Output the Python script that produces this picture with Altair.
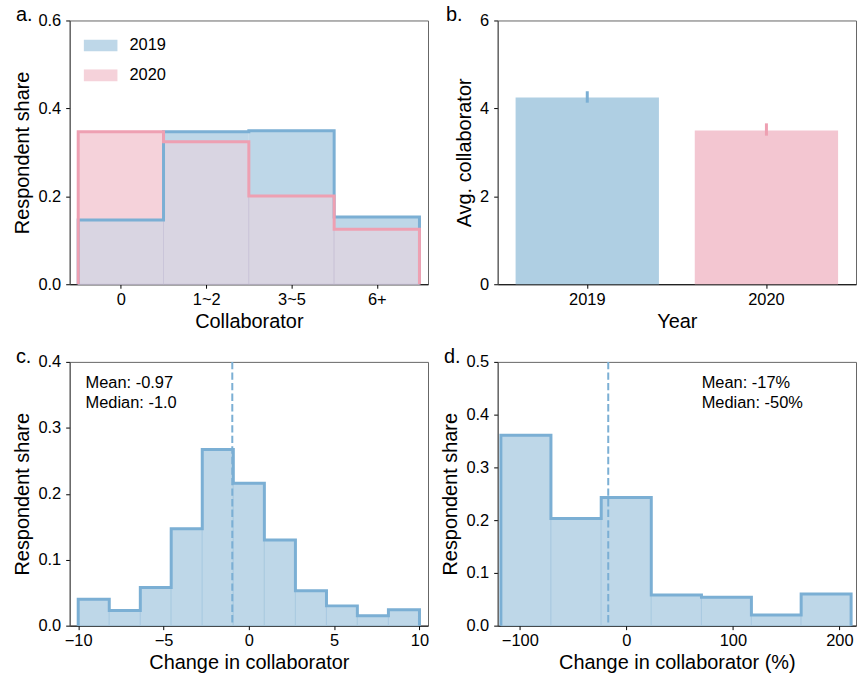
import altair as alt
import pandas as pd

FONT = "Liberation Sans"

# a. respondent share by number of collaborators
categories = ["0", "1~2", "3~5", "6+"]
years = ["2019", "2020"]
share_2019 = [0.146, 0.347, 0.349, 0.153]
share_2020 = [0.347, 0.324, 0.201, 0.125]

# b. average number of collaborators per year, with error range
avg_collaborators = [4.25, 3.50]
err_low = [4.13, 3.38]
err_high = [4.39, 3.66]

# c. change in number of collaborators
change_edges = [-10.0, -8.18, -6.36, -4.55, -2.73, -0.91, 0.91, 2.73, 4.55, 6.36, 8.18, 10.0]
change_share = [0.040, 0.023, 0.058, 0.147, 0.267, 0.216, 0.130, 0.053, 0.030, 0.015, 0.024]
change_mean = -0.97
change_median = -1.0

# d. relative change in number of collaborators (%)
pct_edges = [-117.8, -70.8, -23.6, 23.4, 70.5, 117.4, 164.1, 211.0]
pct_share = [0.361, 0.203, 0.243, 0.058, 0.054, 0.020, 0.060]
pct_mean = -17
pct_median = -50

BLUE_LINE = "#7bafd4"
PINK_LINE = "#eea0b2"
BLUE_FILL = "#bed7e8"
PINK_FILL = "#f5d2da"
MIX_FILL = "#d9d5e2"
BAR_COLORS = ["#afcfe3", "#f3c6d1"]
W, H = 360, 265


def qscale(domain):
    return alt.Scale(domain=domain, nice=False, zero=False)


def xenc(field, domain, values, title, **axis_kw):
    return alt.X(field, type="quantitative", scale=qscale(domain),
                 axis=alt.Axis(values=values, title=title, **axis_kw))


def yenc(field, domain, values, title, fmt):
    return alt.Y(field, type="quantitative", scale=qscale(domain),
                 axis=alt.Axis(values=values, title=title, format=fmt))


def step_points(edges, shares):
    """Outline of a step histogram: up from zero, across each bin, back to zero."""
    xs = [edges[0]] + list(edges[:-1]) + [edges[-1], edges[-1]]
    ys = [0.0] + list(shares) + [shares[-1], 0.0]
    return pd.DataFrame({"x": xs, "y": ys, "idx": list(range(len(xs)))})


def panel_title(label, dx):
    return alt.TitleParams(label, anchor="start", frame="group", dx=dx, dy=13, offset=0,
                           fontSize=20, font=FONT, fontWeight="normal", color="black")


# ---------------- panel a ----------------
cat_edges = [i - 0.5 for i in range(len(categories) + 1)]
bins_a = pd.DataFrame({
    "year": [years[0]] * 4 + [years[1]] * 4,
    "x0": cat_edges[:-1] * 2,
    "x1": cat_edges[1:] * 2,
    "share": share_2019 + share_2020,
})
wide_a = pd.DataFrame({"x0": cat_edges[:-1], "x1": cat_edges[1:],
                       "s19": share_2019, "s20": share_2020})
label_expr = "[" + ",".join(f"'{c}'" for c in categories) + "][datum.value]"
xa = lambda f: xenc(f, [-0.6, 3.6], [0, 1, 2, 3], "Collaborator", labelExpr=label_expr)
ya = lambda f: yenc(f, [0, 0.6], [0, 0.2, 0.4, 0.6], "Respondent share", ".1f")

legend_a = alt.Legend(title=None, orient="none", legendX=14, legendY=19,
                      symbolType="M-1,-0.353H1V0.353H-1Z", symbolSize=1156,
                      symbolStrokeWidth=0, symbolOpacity=1, clipHeight=12,
                      rowPadding=13, labelOffset=12, labelFontSize=16.5,
                      labelFont=FONT, labelColor="black", padding=0)

rect_a = alt.Chart(bins_a).mark_rect().encode(
    x=xa("x0"), x2="x1", y=ya("share"), y2=alt.datum(0),
    color=alt.Color("year:N", scale=alt.Scale(domain=years, range=[BLUE_FILL, PINK_FILL]),
                    legend=legend_a),
)
mix_a = alt.Chart(wide_a).transform_calculate(
    low="min(datum.s19, datum.s20)"
).mark_rect(fill=MIX_FILL, stroke="#c8c2d6", strokeWidth=0.8).encode(
    x=xa("x0"), x2="x1", y=ya("low:Q"), y2=alt.datum(0),
)
line_19 = alt.Chart(step_points(cat_edges, share_2019)).mark_line(
    interpolate="step-after", strokeWidth=3, color=BLUE_LINE, strokeJoin="miter"
).encode(x=xa("x"), y=ya("y"), order="idx:Q")
line_20 = alt.Chart(step_points(cat_edges, share_2020)).mark_line(
    interpolate="step-after", strokeWidth=3, color=PINK_LINE, strokeJoin="miter"
).encode(x=xa("x"), y=ya("y"), order="idx:Q")

panel_a = alt.layer(rect_a, mix_a, line_19, line_20).properties(
    width=W, height=H, title=panel_title("a.", -54))

# ---------------- panel b ----------------
bar_df = pd.DataFrame({"year": years, "avg": avg_collaborators,
                       "lo": err_low, "hi": err_high})
xb = alt.X("year:N", scale=alt.Scale(domain=years, paddingInner=0.2, paddingOuter=0.1),
           axis=alt.Axis(title="Year", labelAngle=0))
yb = lambda f: yenc(f, [0, 6], [0, 2, 4, 6], "Avg. collaborator", "d")

bars_b = alt.Chart(bar_df).mark_bar().encode(
    x=xb, y=yb("avg"),
    color=alt.Color("year:N", scale=alt.Scale(domain=years, range=BAR_COLORS), legend=None),
)
err_b = alt.Chart(bar_df).mark_rule(strokeWidth=3).encode(
    x=xb, y=yb("lo"), y2="hi",
    stroke=alt.Stroke("year:N", scale=alt.Scale(domain=years, range=[BLUE_LINE, PINK_LINE]),
                      legend=None),
)
panel_b = alt.layer(bars_b, err_b).properties(
    width=W, height=H, title=panel_title("b.", -52))


# ---------------- panels c and d ----------------
def hist_panel(edges, shares, xdomain, xticks, xtitle, ydomain, yticks,
               mean, note, note_x, note_y, label):
    xf = lambda f: xenc(f, xdomain, xticks, xtitle)
    yf = lambda f: yenc(f, ydomain, yticks, "Respondent share", ".1f")
    bins = pd.DataFrame({"x0": edges[:-1], "x1": edges[1:], "share": shares})
    rects = alt.Chart(bins).mark_rect(fill=BLUE_FILL, stroke="#a6c7df", strokeWidth=0.8).encode(
        x=xf("x0"), x2="x1", y=yf("share"), y2=alt.datum(0))
    outline = alt.Chart(step_points(edges, shares)).mark_line(
        interpolate="step-after", strokeWidth=3, color=BLUE_LINE, strokeJoin="miter"
    ).encode(x=xf("x"), y=yf("y"), order="idx:Q")
    mean_rule = alt.Chart(pd.DataFrame({"m": [mean]})).mark_rule(
        color=BLUE_LINE, strokeWidth=2, strokeDash=[7.4, 3.2]
    ).encode(x=xf("m"))
    text = alt.Chart(pd.DataFrame({"tx": [note_x], "ty": [note_y], "t": [note]})).mark_text(
        align="left", baseline="alphabetic", fontSize=16.5, font=FONT, color="black",
        lineBreak="\n", lineHeight=20.5
    ).encode(x=xf("tx"), y=yf("ty"), text="t:N")
    return alt.layer(rects, outline, mean_rule, text).properties(
        width=W, height=H, title=panel_title(label, -54))


panel_c = hist_panel(change_edges, change_share, [-10.5, 10.5], [-10, -5, 0, 5, 10],
                     "Change in collaborator", [0, 0.4], [0, 0.1, 0.2, 0.3, 0.4],
                     change_mean, f"Mean: {change_mean}\nMedian: {change_median}",
                     -9.57, 0.361, "c.")
panel_d = hist_panel(pct_edges, pct_share, [-120.8, 215.6], [-100, 0, 100, 200],
                     "Change in collaborator (%)", [0, 0.5], [0, 0.1, 0.2, 0.3, 0.4, 0.5],
                     pct_mean, f"Mean: {pct_mean}%\nMedian: {pct_median}%",
                     70.7, 0.451, "d.")

chart = alt.concat(
    panel_a, panel_b, panel_c, panel_d,
    columns=2, spacing={"row": 78, "column": 70}, bounds="flush",
).resolve_scale(
    color="independent", stroke="independent"
).properties(
    padding={"left": 12, "top": 3, "right": 0, "bottom": 0},
).configure_axis(
    labelFont=FONT, titleFont=FONT, labelFontSize=16.5, titleFontSize=20,
    titleFontWeight="normal", labelColor="black", titleColor="black",
    tickColor="black", domainColor="black", tickSize=4, tickWidth=1,
    domainWidth=1, labelPadding=5, grid=False, labelFlush=False, labelOverlap=False,
).configure_axisX(labelPadding=3, titlePadding=4).configure_axisY(
    titlePadding=5, domainColor="#555"
).configure_view(stroke="#666", strokeWidth=1)

chart.save("out.html", embed_options={"renderer": "svg", "actions": False})
